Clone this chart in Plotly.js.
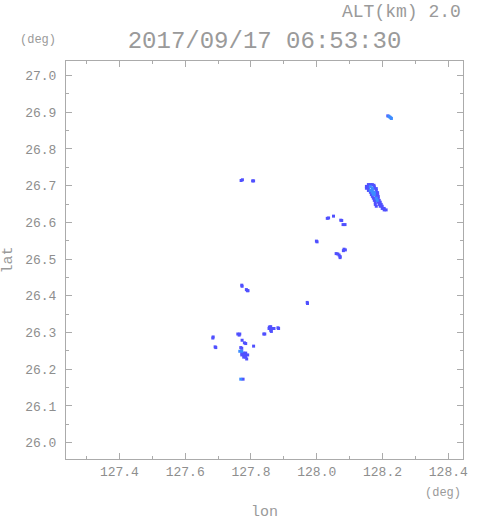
<!DOCTYPE html>
<html>
<head>
<meta charset="utf-8">
<script src="https://cdn.plot.ly/plotly-3.0.1.min.js"></script>
<style>html,body{margin:0;padding:0;background:#fff;}#chart{width:491px;height:521px;}</style>
</head>
<body>
<div id="chart"></div>
<script>
// Echo cells (blue) — longitude / latitude in degrees
const blueLon = [
  127.770,127.774, 127.805,127.808, 128.032,128.036, 128.051, 128.073,128.076, 128.080,128.086,
  127.999,128.001, 128.083,128.087,128.081, 128.059,128.064,128.068,128.071,128.071,
  127.772,127.773, 127.786,127.789,127.791, 127.971,127.972,
  127.856,127.860,127.855,127.860,127.865,127.870,127.860,127.862,
  127.882,127.884, 127.760,127.766,127.764, 127.839,127.842, 127.685,127.684, 127.773,
  127.780,127.784, 127.691,127.693, 127.769,127.772, 127.808,
  127.772,127.778,127.784,127.772,127.778,127.784,127.790,127.778,127.784,127.787, 127.776,
  // main cluster
  128.157,128.163,128.169,128.174, 128.151,128.157,128.175, 128.151,128.157,128.175,128.181,
  128.157,128.181, 128.163,128.181,128.185, 128.166,128.178,128.185,
  128.169,128.181,128.187, 128.172,128.178,128.187, 128.175,128.181,128.190,
  128.178,128.187,128.193, 128.178,128.190,128.196, 128.181,128.193,128.199,
  128.199,128.205, 128.205,128.211,
  128.216
];
const blueLat = [
  26.714,26.716, 26.713,26.713, 26.611,26.612, 26.617, 26.606,26.605, 26.594,26.594,
  26.549,26.547, 26.527,26.525,26.523, 26.515,26.514,26.511,26.507,26.504,
  26.429,26.426, 26.417,26.414,26.414, 26.382,26.379,
  26.315,26.316,26.311,26.311,26.311,26.311,26.306,26.303,
  26.313,26.311, 26.296,26.296,26.293, 26.296,26.296, 26.288,26.285, 26.279,
  26.272,26.270, 26.261,26.259, 26.259,26.257, 26.263,
  26.244,26.244,26.244,26.239,26.239,26.239,26.239,26.233,26.233,26.228, 26.173,
  // main cluster
  26.703,26.703,26.703,26.701, 26.698,26.698,26.697, 26.693,26.693,26.693,26.692,
  26.687,26.687, 26.682,26.682,26.681, 26.676,26.676,26.676,
  26.671,26.671,26.671, 26.666,26.666,26.666, 26.660,26.660,26.660,
  26.655,26.655,26.655, 26.649,26.649,26.649, 26.644,26.644,26.644,
  26.638,26.638, 26.634,26.634,
  26.890
];
// Echo cells (light blue)
const lightLon = [128.219,128.222,128.225,128.227, 128.163,128.169,128.163,128.169,128.169,128.175,128.172,128.175,128.181,128.184,
  127.766,127.772, 127.769];
const lightLat = [26.889,26.887,26.885,26.883, 26.697,26.693,26.687,26.687,26.682,26.682,26.676,26.676,26.666,26.660,
  26.249,26.249, 26.173];

const xTicks = [127.4,127.6,127.8,128.0,128.2,128.4];
const xTickText = ['127.4','127.6','127.8','128.0','128.2','128.4'];
const yTicks = [26.0,26.1,26.2,26.3,26.4,26.5,26.6,26.7,26.8,26.9,27.0];
const yTickText = ['26.0','26.1','26.2','26.3','26.4','26.5','26.6','26.7','26.8','26.9','27.0'];

const FONT = 'Liberation Mono, DejaVu Sans Mono, monospace';
const GRAY = '#9a9a9a';

const traces = [
  {type:'scatter', mode:'markers', x: blueLon, y: blueLat,
   marker:{symbol:'square', size:3, color:'#5050ff', line:{width:0}}, hoverinfo:'skip'},
  {type:'scatter', mode:'markers', x: lightLon, y: lightLat,
   marker:{symbol:'square', size:3, color:'#3c8cff', line:{width:0}}, hoverinfo:'skip'}
];

const axisCommon = {
  showgrid:false, zeroline:false, showline:true, linecolor:'#ababab', linewidth:1,
  mirror:'ticks', ticks:'inside', ticklen:6, tickwidth:1, tickcolor:'#ababab',
  tickfont:{family:FONT, size:13, color:'#8e8e8e'}
};

const layout = {
  width:491, height:521,
  margin:{l:66, r:28, t:61, b:62},
  paper_bgcolor:'#fff', plot_bgcolor:'#fff',
  showlegend:false,
  title:{text:'2017/09/17 06:53:30', font:{family:FONT, size:24, color:GRAY},
         x:0.5, xref:'paper', xanchor:'center', y:1-40/521, yref:'container', yanchor:'middle'},
  xaxis: Object.assign({}, axisCommon, {
    range:[127.2376,128.4447], tickmode:'array', tickvals:xTicks, ticktext:xTickText,
    minor:{dtick:0.1, tick0:127.3, ticks:'inside', ticklen:3, tickcolor:'#ababab', showgrid:false},
    title:{text:'lon', font:{family:FONT, size:15, color:GRAY}, standoff:26}
  }),
  yaxis: Object.assign({}, axisCommon, {
    range:[25.9556,27.0395], tickmode:'array', tickvals:yTicks, ticktext:yTickText,
    ticklabelstandoff:6,
    minor:{dtick:0.05, tick0:25.95, ticks:'inside', ticklen:3, tickcolor:'#ababab', showgrid:false},
    title:{text:'lat', font:{family:FONT, size:15, color:GRAY}, standoff:14}
  }),
  annotations:[
    {text:'ALT(km) 2.0', xref:'paper', yref:'paper', x:1, y:1, xanchor:'right', yanchor:'middle',
     yshift:49, showarrow:false, font:{family:FONT, size:18, color:GRAY}},
    {text:'(deg)', xref:'paper', yref:'paper', x:0, y:1, xanchor:'right', yanchor:'middle',
     xshift:-8, yshift:21, showarrow:false, font:{family:FONT, size:12, color:GRAY}},
    {text:'(deg)', xref:'paper', yref:'paper', x:1, y:0, xanchor:'right', yanchor:'middle',
     yshift:-34, showarrow:false, font:{family:FONT, size:12, color:GRAY}}
  ]
};

Plotly.newPlot('chart', traces, layout, {displayModeBar:false, staticPlot:true});
</script>
</body>
</html>
